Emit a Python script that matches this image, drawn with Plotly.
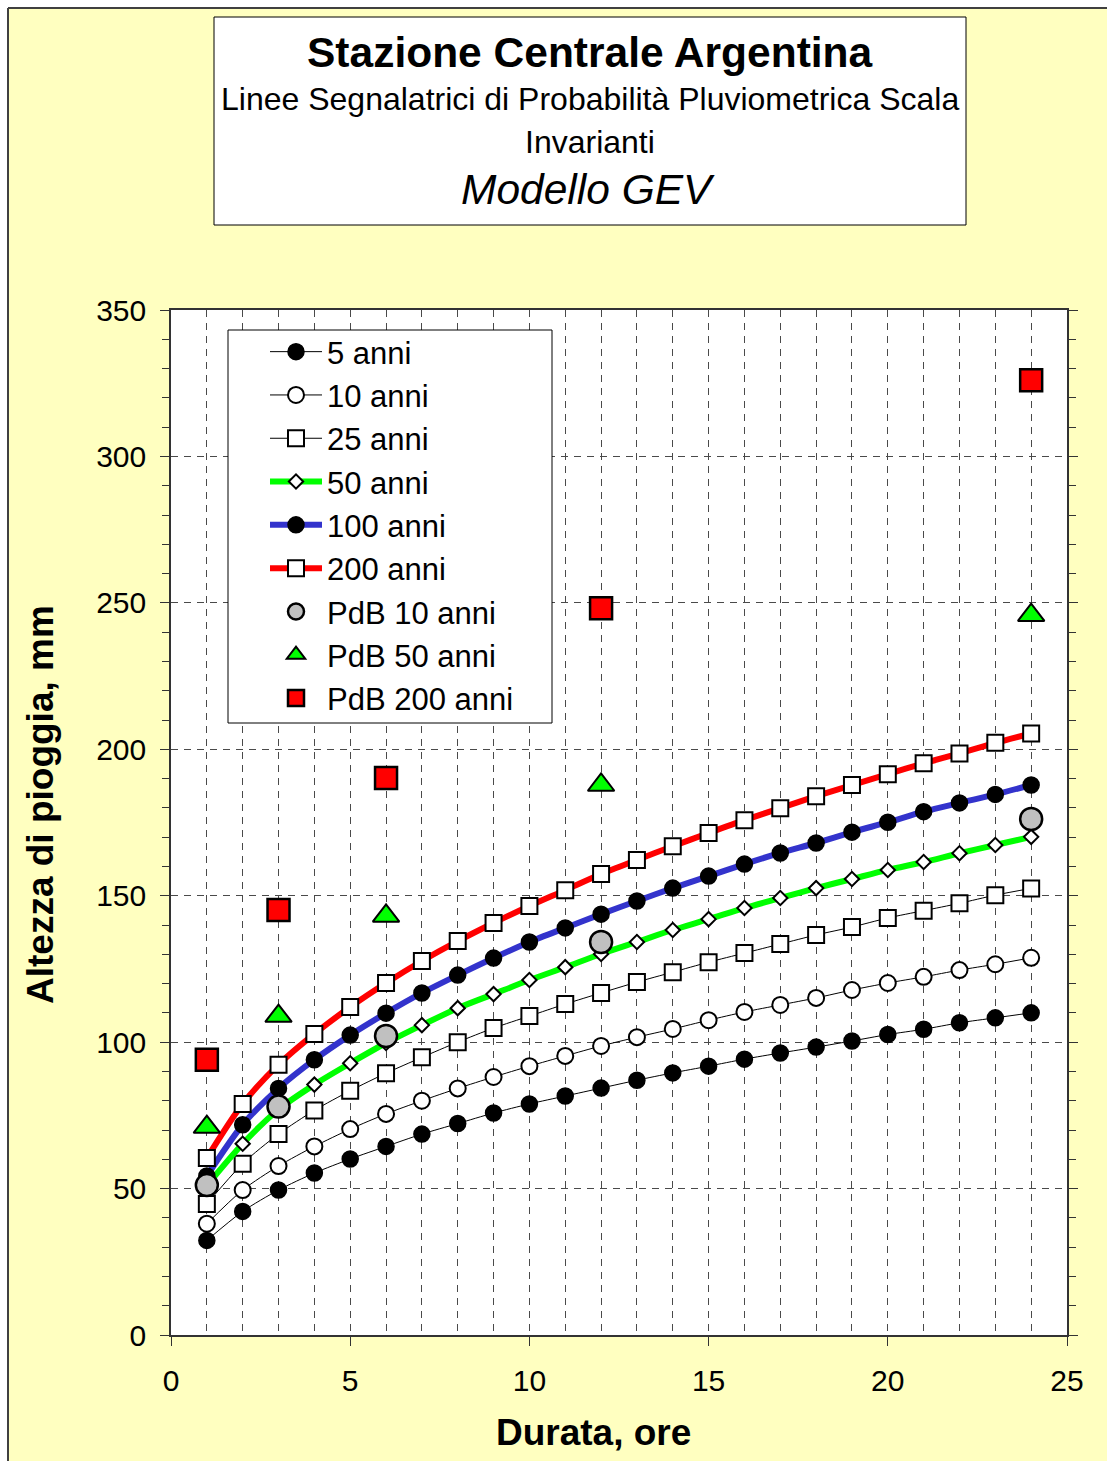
import plotly.graph_objects as go

# ---------------- data ----------------
hours = list(range(1, 25))
h5 = [32.3, 42.2, 49.5, 55.3, 60.1, 64.4, 68.6, 72.2, 75.8, 78.9, 81.6, 84.3,
      87.0, 89.5, 91.8, 94.2, 96.3, 98.3, 100.4, 102.6, 104.4, 106.6, 108.3, 110.0]
h10 = [38.0, 49.5, 57.7, 64.4, 70.3, 75.5, 80.0, 84.2, 88.1, 91.8, 95.3, 98.7,
       101.7, 104.5, 107.5, 110.3, 112.7, 115.1, 117.8, 120.2, 122.3, 124.6, 126.6, 128.8]
h25 = [44.7, 58.5, 68.6, 76.7, 83.4, 89.4, 94.8, 100.0, 104.8, 108.9, 113.0, 116.8,
       120.5, 123.9, 127.3, 130.4, 133.5, 136.6, 139.3, 142.4, 144.9, 147.4, 150.2, 152.5]
h50 = [51.0, 65.3, 77.0, 85.5, 92.8, 99.7, 105.8, 111.6, 116.4, 121.2, 125.6, 130.1,
       134.2, 138.3, 142.0, 145.8, 149.2, 152.6, 155.7, 158.8, 161.5, 164.5, 167.3, 170.1]
h100 = [54.3, 71.8, 84.2, 94.0, 102.4, 109.9, 116.8, 122.9, 128.7, 134.2, 139.0, 143.7,
        148.2, 152.6, 156.7, 160.8, 164.6, 168.0, 171.7, 175.1, 178.7, 181.7, 184.6, 187.8]
h200 = [60.4, 78.9, 92.3, 102.8, 112.0, 120.2, 127.7, 134.5, 140.7, 146.5, 151.9, 157.4,
        162.2, 166.9, 171.4, 175.8, 179.9, 184.0, 187.8, 191.5, 195.2, 198.6, 202.2, 205.4]

pdb_hours = [1, 3, 6, 12, 24]
pdb10 = [51.2, 78.0, 102.1, 134.2, 176.2]
pdb50 = [71.0, 108.9, 143.1, 187.8, 245.8]
pdb200 = [94.0, 145.1, 190.2, 248.2, 326.0]

series_names = ["5 anni", "10 anni", "25 anni", "50 anni", "100 anni", "200 anni"]
pdb_names = ["PdB 10 anni", "PdB 50 anni", "PdB 200 anni"]

title1 = "Stazione Centrale Argentina"
title2 = "Linee Segnalatrici di Probabilità Pluviometrica Scala"
title3 = "Invarianti"
title4 = "Modello GEV"
xtitle = "Durata, ore"
ytitle = "Altezza di pioggia, mm"

# ---------------- layout geometry ----------------
W, H = 1107, 1461
L, R, T, B = 171, 1067, 310, 1335
PW, PH = R - L, B - T
FONT = "Arial, 'Liberation Sans', sans-serif"


def px(x):
    return (x - L) / PW


def py(y):
    return (B - y) / PH


fig = go.Figure()

styles = [
    dict(line=dict(color="black", width=1),
         marker=dict(symbol="circle", size=16, color="black", line=dict(color="black", width=1.5))),
    dict(line=dict(color="black", width=1),
         marker=dict(symbol="circle", size=16, color="white", line=dict(color="black", width=2))),
    dict(line=dict(color="black", width=1),
         marker=dict(symbol="square", size=16, color="white", line=dict(color="black", width=2))),
    dict(line=dict(color="#00FF00", width=6),
         marker=dict(symbol="diamond", size=11, color="white", line=dict(color="black", width=2))),
    dict(line=dict(color="#3333CC", width=6),
         marker=dict(symbol="circle", size=16, color="black", line=dict(color="black", width=1.5))),
    dict(line=dict(color="#FF0000", width=6),
         marker=dict(symbol="square", size=16, color="white", line=dict(color="black", width=2))),
]
for name, vals, st in zip(series_names, [h5, h10, h25, h50, h100, h200], styles):
    fig.add_trace(go.Scatter(
        x=hours, y=vals, name=name, mode="lines+markers",
        line=dict(shape="spline", smoothing=0.8, **st["line"]),
        marker=st["marker"],
    ))

pdb_styles = [
    dict(symbol="circle", size=22, color="#C0C0C0", line=dict(color="black", width=2.5)),
    dict(symbol="triangle-up", size=23, color="#00FF00", line=dict(color="black", width=2)),
    dict(symbol="square", size=22, color="#FF0000", line=dict(color="black", width=2.5)),
]
for name, vals, mk in zip(pdb_names, [pdb10, pdb50, pdb200], pdb_styles):
    fig.add_trace(go.Scatter(x=pdb_hours, y=vals, name=name, mode="markers", marker=mk))

grid_color = "#4a4a4a"
grid_dash = "7px,6px"

fig.update_xaxes(
    range=[0, 25], dtick=5, tick0=0,
    showline=True, linecolor="#333333", linewidth=2, mirror=True,
    ticks="outside", ticklen=9, tickcolor="#333333", tickwidth=1,
    tickfont=dict(family=FONT, size=30, color="black"),
    ticklabelstandoff=9,
    showgrid=True, gridcolor=grid_color, griddash=grid_dash, gridwidth=1,
    minor=dict(dtick=1, showgrid=True, gridcolor=grid_color, griddash=grid_dash, gridwidth=1),
    zeroline=False,
)
fig.update_yaxes(
    range=[0, 350], dtick=50, tick0=0,
    showline=True, linecolor="#333333", linewidth=1.5, mirror="ticks",
    ticks="outside", ticklen=9, tickcolor="#333333", tickwidth=1,
    tickfont=dict(family=FONT, size=30, color="black"),
    ticklabelstandoff=8,
    showgrid=True, gridcolor=grid_color, griddash=grid_dash, gridwidth=1,
    minor=dict(dtick=10, ticks="outside", ticklen=7, tickcolor="#333333", showgrid=False),
    zeroline=False,
)

shapes = [
    # white strips outside frame
    dict(type="rect", xref="paper", yref="paper", x0=px(-50), x1=px(8), y0=py(2000), y1=py(-50),
         fillcolor="white", line=dict(width=0), layer="below"),
    dict(type="rect", xref="paper", yref="paper", x0=px(-50), x1=px(2000), y0=py(8), y1=py(-50),
         fillcolor="white", line=dict(width=0), layer="below"),
    # frame lines
    dict(type="line", xref="paper", yref="paper", x0=px(8), x1=px(8), y0=py(8), y1=py(2000),
         line=dict(color="#404040", width=2), layer="below"),
    dict(type="line", xref="paper", yref="paper", x0=px(8), x1=px(2000), y0=py(8), y1=py(8),
         line=dict(color="#404040", width=2), layer="below"),
    # title box
    dict(type="rect", xref="paper", yref="paper", x0=px(214), x1=px(966), y0=py(225), y1=py(17),
         fillcolor="white", line=dict(color="black", width=1), layer="below"),
    # legend box
    dict(type="rect", xref="paper", yref="paper", x0=px(228), x1=px(552), y0=py(723), y1=py(330),
         fillcolor="white", line=dict(color="black", width=1), layer="above"),
]

annotations = [
    dict(text="<b>" + title1 + "</b>", x=px(590), y=py(52), font=dict(size=42.5)),
    dict(text=title2, x=px(590), y=py(99), font=dict(size=32)),
    dict(text=title3, x=px(590), y=py(142), font=dict(size=32)),
    dict(text="<i>" + title4 + "</i>", x=px(588), y=py(190), font=dict(size=42.5)),
    dict(text="<b>" + xtitle + "</b>", x=px(593), y=py(1432), font=dict(size=37)),
    dict(text="<b>" + ytitle + "</b>", x=px(40), y=py(805), font=dict(size=37), textangle=-90),
]
for a in annotations:
    a.update(xref="paper", yref="paper", showarrow=False, xanchor="center", yanchor="middle")
    a["font"].update(family=FONT, color="black")

fig.update_layout(
    width=W, height=H,
    margin=dict(l=L, r=W - R, t=T, b=H - B, pad=0),
    paper_bgcolor="#FFFFC0",
    plot_bgcolor="white",
    font=dict(family=FONT, color="black"),
    shapes=shapes,
    annotations=annotations,
    showlegend=True,
    legend=dict(
        x=px(265), y=py(325), xanchor="left", yanchor="top",
        bgcolor="rgba(0,0,0,0)", borderwidth=0,
        font=dict(family=FONT, size=31, color="black"),
        itemwidth=52, traceorder="normal", tracegroupgap=0,
        itemclick=False,
    ),
)

fig.write_html(
    "out.html",
    config={"displayModeBar": False},
    post_script="document.body.style.margin='0';document.body.style.padding='0';",
)
